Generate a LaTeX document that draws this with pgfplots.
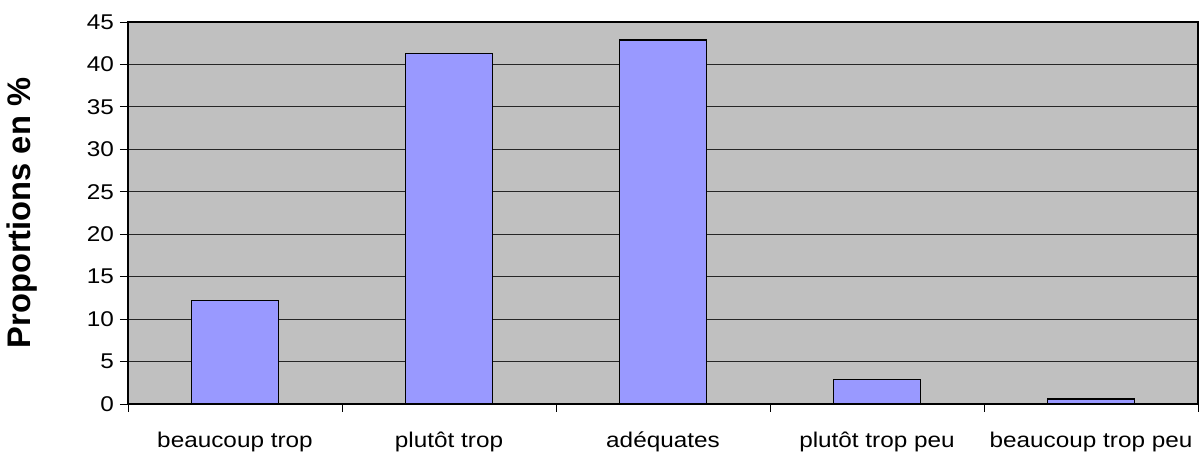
\documentclass[border=0pt]{standalone}
\usepackage{pgfplots}
\pgfplotsset{compat=1.18}
\usepackage{fontspec}
\setmainfont{Liberation Sans}
\newfontfamily\tickfont[FakeStretch=1.14]{Liberation Sans}
\definecolor{plotbg}{HTML}{C0C0C0}
\definecolor{barcol}{HTML}{9999FF}
\begin{document}
\begin{tikzpicture}
\begin{axis}[
  scale only axis,
  width=802.5pt, height=286.5pt,
  xmin=-0.5, xmax=4.5,
  ymin=0, ymax=45,
  ytick={0,5,...,45},
  xtick={0,1,2,3,4},
  xticklabels={beaucoup trop, plutôt trop, adéquates, plutôt trop peu, beaucoup trop peu},
  minor xtick={-0.5,0.5,1.5,2.5,3.5,4.5},
  xtick pos=bottom, ytick pos=left,
  major x tick style={draw=none},
  tick align=outside,
  major tick length=6pt,
  minor tick length=6pt,
  tick style={black, line width=0.6pt},
  ymajorgrids,
  grid style={black!85, line width=0.7pt},
  axis background/.style={fill=plotbg},
  axis line style={black, line width=0.8pt},
  ticklabel style={font=\tickfont\fontsize{16pt}{18pt}\selectfont},
  /pgf/number format/assume math mode=true,
  xticklabel style={anchor=base, yshift=-26.5pt},
  yticklabel style={xshift=-1pt},
  every axis y label/.style={at={(rel axis cs:0,0.5)}, xshift=-79.5pt, rotate=90, anchor=center},
  ylabel={\textbf{Proportions en \%}},
  ylabel style={font=\fontsize{24.5pt}{28pt}\selectfont},
  ybar,
  bar width=65pt,
]
\addplot[fill=barcol, draw=black, line width=1.2pt] coordinates {(0,12.2) (1,41.3) (2,42.9) (3,2.9) (4,0.6)};
\end{axis}
\pgfresetboundingbox
\path (current axis.south west) ++(-96pt,-38.25pt) coordinate (bbsw);
\path (current axis.north east) ++(4.5pt,16.5pt) coordinate (bbne);
\path[use as bounding box] (bbsw) rectangle (bbne);
\end{tikzpicture}
\end{document}
